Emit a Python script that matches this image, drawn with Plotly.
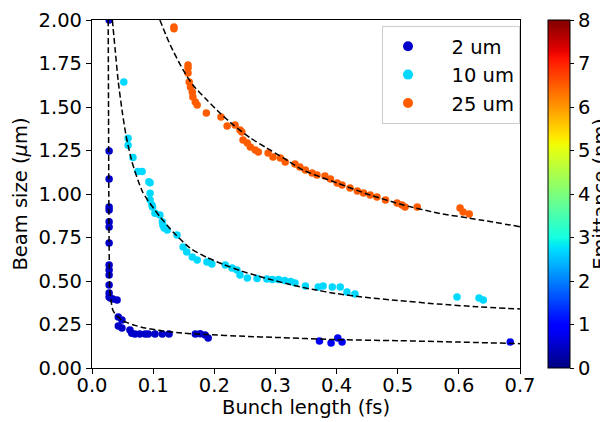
import numpy as np
import plotly.graph_objects as go

# ---------------- data ----------------
series_names = ["2 um", "10 um", "25 um"]

x_2um = [0.028, 0.028, 0.028, 0.028, 0.028, 0.028, 0.028, 0.028, 0.028, 0.028,
         0.028, 0.028, 0.028, 0.028, 0.030, 0.034, 0.041, 0.043, 0.049, 0.043,
         0.049, 0.062, 0.065, 0.070, 0.078, 0.087, 0.092, 0.103, 0.115, 0.126,
         0.169, 0.177, 0.185, 0.190, 0.372, 0.391, 0.402, 0.409, 0.684]
y_2um = [2.0, 1.247, 1.086, 0.925, 0.908, 0.84, 0.81, 0.718, 0.592, 0.563,
         0.534, 0.477, 0.431, 0.408, 0.402, 0.397, 0.391, 0.293, 0.276, 0.241,
         0.23, 0.218, 0.2, 0.195, 0.195, 0.195, 0.195, 0.195, 0.195, 0.195,
         0.195, 0.197, 0.19, 0.172, 0.155, 0.144, 0.172, 0.15, 0.15]
emit_2um = [0.5, 0.5, 0.5, 0.5, 0.5, 0.5, 0.5, 0.5, 0.5, 0.5,
            0.5, 0.5, 0.5, 0.5, 0.5, 0.5, 0.5, 0.5, 0.5, 0.5,
            0.5, 0.5, 0.5, 0.5, 0.5, 0.5, 0.5, 0.5, 0.5, 0.5,
            0.5, 0.5, 0.5, 0.5, 0.8, 0.8, 0.8, 0.8, 0.8]

x_10um = [0.052, 0.059, 0.059, 0.067, 0.075, 0.082, 0.093, 0.095, 0.095, 0.095,
          0.098, 0.099, 0.103, 0.111, 0.115, 0.116, 0.118, 0.123, 0.139, 0.149,
          0.155, 0.164, 0.172, 0.188, 0.196, 0.218, 0.229, 0.237, 0.242, 0.254,
          0.270, 0.286, 0.295, 0.305, 0.315, 0.325, 0.332, 0.349, 0.370, 0.378,
          0.393, 0.406, 0.417, 0.430, 0.597, 0.633, 0.640]
y_10um = [1.644, 1.32, 1.28, 1.21, 1.13, 1.13, 1.07, 1.064, 1.005, 0.965,
          0.937, 0.925, 0.89, 0.88, 0.84, 0.82, 0.805, 0.793, 0.764, 0.695,
          0.667, 0.638, 0.62, 0.609, 0.598, 0.592, 0.575, 0.563, 0.534, 0.517,
          0.515, 0.511, 0.508, 0.508, 0.503, 0.497, 0.489, 0.471, 0.466, 0.471,
          0.466, 0.466, 0.437, 0.425, 0.408, 0.402, 0.391]
emit_10um = [2.7, 2.7, 2.7, 2.7, 2.7, 2.7, 2.7, 2.7, 2.7, 2.7,
             2.7, 2.7, 2.7, 2.7, 2.7, 2.7, 2.7, 2.7, 2.7, 2.7,
             2.7, 2.7, 2.7, 2.7, 2.7, 2.7, 2.7, 2.7, 2.7, 2.7,
             2.7, 2.7, 2.7, 2.7, 2.7, 2.7, 2.7, 2.7, 2.7, 2.7,
             2.7, 2.7, 2.7, 2.7, 2.7, 2.7, 2.7]

x_25um = [0.134, 0.134, 0.157, 0.157, 0.157, 0.159, 0.161, 0.164, 0.165, 0.169,
          0.172, 0.187, 0.211, 0.221, 0.234, 0.242, 0.245, 0.247, 0.254, 0.259,
          0.267, 0.272, 0.288, 0.296, 0.308, 0.316, 0.332, 0.340, 0.349, 0.360,
          0.368, 0.381, 0.390, 0.401, 0.409, 0.422, 0.434, 0.444, 0.455, 0.466,
          0.480, 0.499, 0.507, 0.512, 0.532, 0.602, 0.607, 0.617]
y_25um = [1.96, 1.95, 1.741, 1.724, 1.695, 1.644, 1.615, 1.586, 1.557, 1.529,
          1.511, 1.466, 1.443, 1.391, 1.397, 1.368, 1.356, 1.31, 1.293, 1.27,
          1.253, 1.241, 1.236, 1.213, 1.207, 1.184, 1.172, 1.155, 1.138, 1.121,
          1.109, 1.103, 1.086, 1.063, 1.052, 1.034, 1.017, 1.006, 0.994, 0.983,
          0.966, 0.948, 0.937, 0.925, 0.925, 0.92, 0.897, 0.885]
emit_25um = [6.5, 6.5, 6.5, 6.5, 6.5, 6.5, 6.5, 6.5, 6.5, 6.5,
             6.5, 6.5, 6.5, 6.5, 6.5, 6.5, 6.5, 6.5, 6.5, 6.5,
             6.5, 6.5, 6.5, 6.5, 6.5, 6.5, 6.5, 6.5, 6.5, 6.5,
             6.5, 6.5, 6.5, 6.5, 6.5, 6.5, 6.5, 6.5, 6.5, 6.5,
             6.5, 6.5, 6.5, 6.5, 6.5, 6.5, 6.5, 6.5]
legend_emit = [0.5, 2.7, 6.5]

# dashed fit curves
fit_x_2um = [0.0265, 0.027, 0.0275, 0.028, 0.0285, 0.029, 0.031, 0.034, 0.038, 0.043,
             0.05, 0.059, 0.07, 0.087, 0.115, 0.147, 0.185, 0.25, 0.3, 0.4,
             0.5, 0.6, 0.7]
fit_y_2um = [2.0, 1.5, 1.0, 0.7, 0.55, 0.45, 0.39, 0.333, 0.31, 0.293,
             0.272, 0.259, 0.245, 0.23, 0.213, 0.201, 0.193, 0.182, 0.176, 0.163,
             0.157, 0.149, 0.14]
fit_x_10um = [0.0333, 0.0376, 0.043, 0.05, 0.056, 0.065, 0.075, 0.083, 0.092, 0.111,
              0.133, 0.16, 0.188, 0.215, 0.242, 0.27, 0.296, 0.324, 0.36, 0.401,
              0.45, 0.5, 0.565, 0.63, 0.7]
fit_y_10um = [2.0, 1.84, 1.644, 1.46, 1.33, 1.19, 1.08, 1.01, 0.96, 0.87,
              0.78, 0.69, 0.635, 0.595, 0.56, 0.53, 0.505, 0.48, 0.452, 0.427,
              0.405, 0.388, 0.368, 0.352, 0.339]
fit_x_25um = [0.111, 0.128, 0.149, 0.165, 0.188, 0.209, 0.231, 0.259, 0.286, 0.313,
              0.345, 0.401, 0.455, 0.509, 0.565, 0.635, 0.7]
fit_y_25um = [2.0, 1.856, 1.713, 1.626, 1.54, 1.466, 1.397, 1.322, 1.264, 1.207,
              1.138, 1.063, 0.994, 0.937, 0.891, 0.851, 0.812]

x_ticks = [0.0, 0.1, 0.2, 0.3, 0.4, 0.5, 0.6, 0.7]
y_ticks = [0.0, 0.25, 0.5, 0.75, 1.0, 1.25, 1.5, 1.75, 2.0]
cbar_ticks = [0, 1, 2, 3, 4, 5, 6, 7, 8]

# ---------------- matplotlib "jet" colormap ----------------
_r = ([0, 0.35, 0.66, 0.89, 1], [0, 0, 1, 1, 0.5])
_g = ([0, 0.125, 0.375, 0.64, 0.91, 1], [0, 0, 1, 1, 0, 0])
_b = ([0, 0.11, 0.34, 0.65, 1], [0.5, 1, 1, 0, 0])


def jet(t):
    r = np.interp(t, *_r)
    g = np.interp(t, *_g)
    b = np.interp(t, *_b)
    return "rgb(%d,%d,%d)" % (round(r * 255), round(g * 255), round(b * 255))


stops = np.linspace(0, 1, 81)
jet_scale = [[float(s), jet(s)] for s in stops]
CMIN, CMAX = 0, 8

FONT = "DejaVu Sans, Arial, sans-serif"
FS = 19.5

fig = go.Figure()

point_sets = [(x_2um, y_2um, emit_2um), (x_10um, y_10um, emit_10um), (x_25um, y_25um, emit_25um)]
for i, (xs, ys, es) in enumerate(point_sets):
    marker = dict(size=7.5, color=es, colorscale=jet_scale, cmin=CMIN, cmax=CMAX,
                  line=dict(width=0), showscale=(i == 0))
    if i == 0:
        marker["colorbar"] = dict(
            x=1.0654, xanchor="left", xref="paper",
            y=0.5, yanchor="middle", len=1, lenmode="fraction",
            thickness=22, thicknessmode="pixels",
            outlinecolor="black", outlinewidth=1,
            tickmode="array", tickvals=cbar_ticks,
            ticks="outside", ticklen=4, tickwidth=1, tickcolor="black",
            tickfont=dict(family=FONT, size=FS, color="black"),
            xpad=0, ypad=0,
        )
    fig.add_trace(go.Scatter(x=xs, y=ys, mode="markers", marker=marker,
                             showlegend=False, hoverinfo="x+y"))

# legend entries (larger markers like matplotlib's legend)
for name, e in zip(series_names, legend_emit):
    fig.add_trace(go.Scatter(x=[None], y=[None], mode="markers", name="\u00a0\u00a0\u00a0" + name,
                             marker=dict(size=10, color=jet(e / CMAX), line=dict(width=0)),
                             showlegend=True))

for fx, fy in [(fit_x_2um, fit_y_2um), (fit_x_10um, fit_y_10um), (fit_x_25um, fit_y_25um)]:
    fig.add_trace(go.Scatter(x=fx, y=fy, mode="lines", line=dict(color="black", width=1.5,
                                                                   dash="6px,3px", shape="spline",
                                                                   smoothing=0.6),
                             showlegend=False, hoverinfo="skip"))

axis_common = dict(showline=True, linecolor="black", linewidth=1.2, mirror=True,
                   ticks="outside", ticklen=5, tickwidth=1, tickcolor="black",
                   showgrid=False, zeroline=False, automargin=False,
                   tickfont=dict(family=FONT, size=FS, color="black"))

# colorbar title as a rotated annotation (partly beyond the right edge, as in the original)
fig.add_annotation(text="Emittance (nm)", textangle=-90, xref="paper", yref="paper",
                   x=1.155, y=0.5, xanchor="left", yanchor="middle", showarrow=False,
                   font=dict(family=FONT, size=FS, color="black"))

# the page places the figure 8px from the top-left corner of the window
fig.update_layout(
    width=600, height=414,
    margin=dict(l=84, r=88, t=12, b=54, autoexpand=False),
    paper_bgcolor="white", plot_bgcolor="white",
    font=dict(family=FONT, size=FS, color="black"),
    xaxis=dict(range=[0, 0.7], tickmode="array", tickvals=x_ticks,
               ticktext=["%.1f" % v for v in x_ticks], ticklabelstandoff=-6,
               title=dict(text="Bunch length (fs)", standoff=4,
                          font=dict(family=FONT, size=FS, color="black")),
               **axis_common),
    yaxis=dict(range=[0, 2.0], tickmode="array", tickvals=y_ticks,
               ticktext=["%.2f" % v for v in y_ticks],
               title=dict(text="Beam size (<i>\u03bc</i>m)", standoff=5,
                          font=dict(family=FONT, size=FS, color="black")),
               **axis_common),
    legend=dict(x=0.6776, y=0.9825, xanchor="left", yanchor="top",
                bgcolor="white", bordercolor="#cccccc", borderwidth=1,
                font=dict(family=FONT, size=FS, color="black"),
                itemwidth=40, tracegroupgap=0),
    showlegend=True,
)

fig.write_html("out.html")
